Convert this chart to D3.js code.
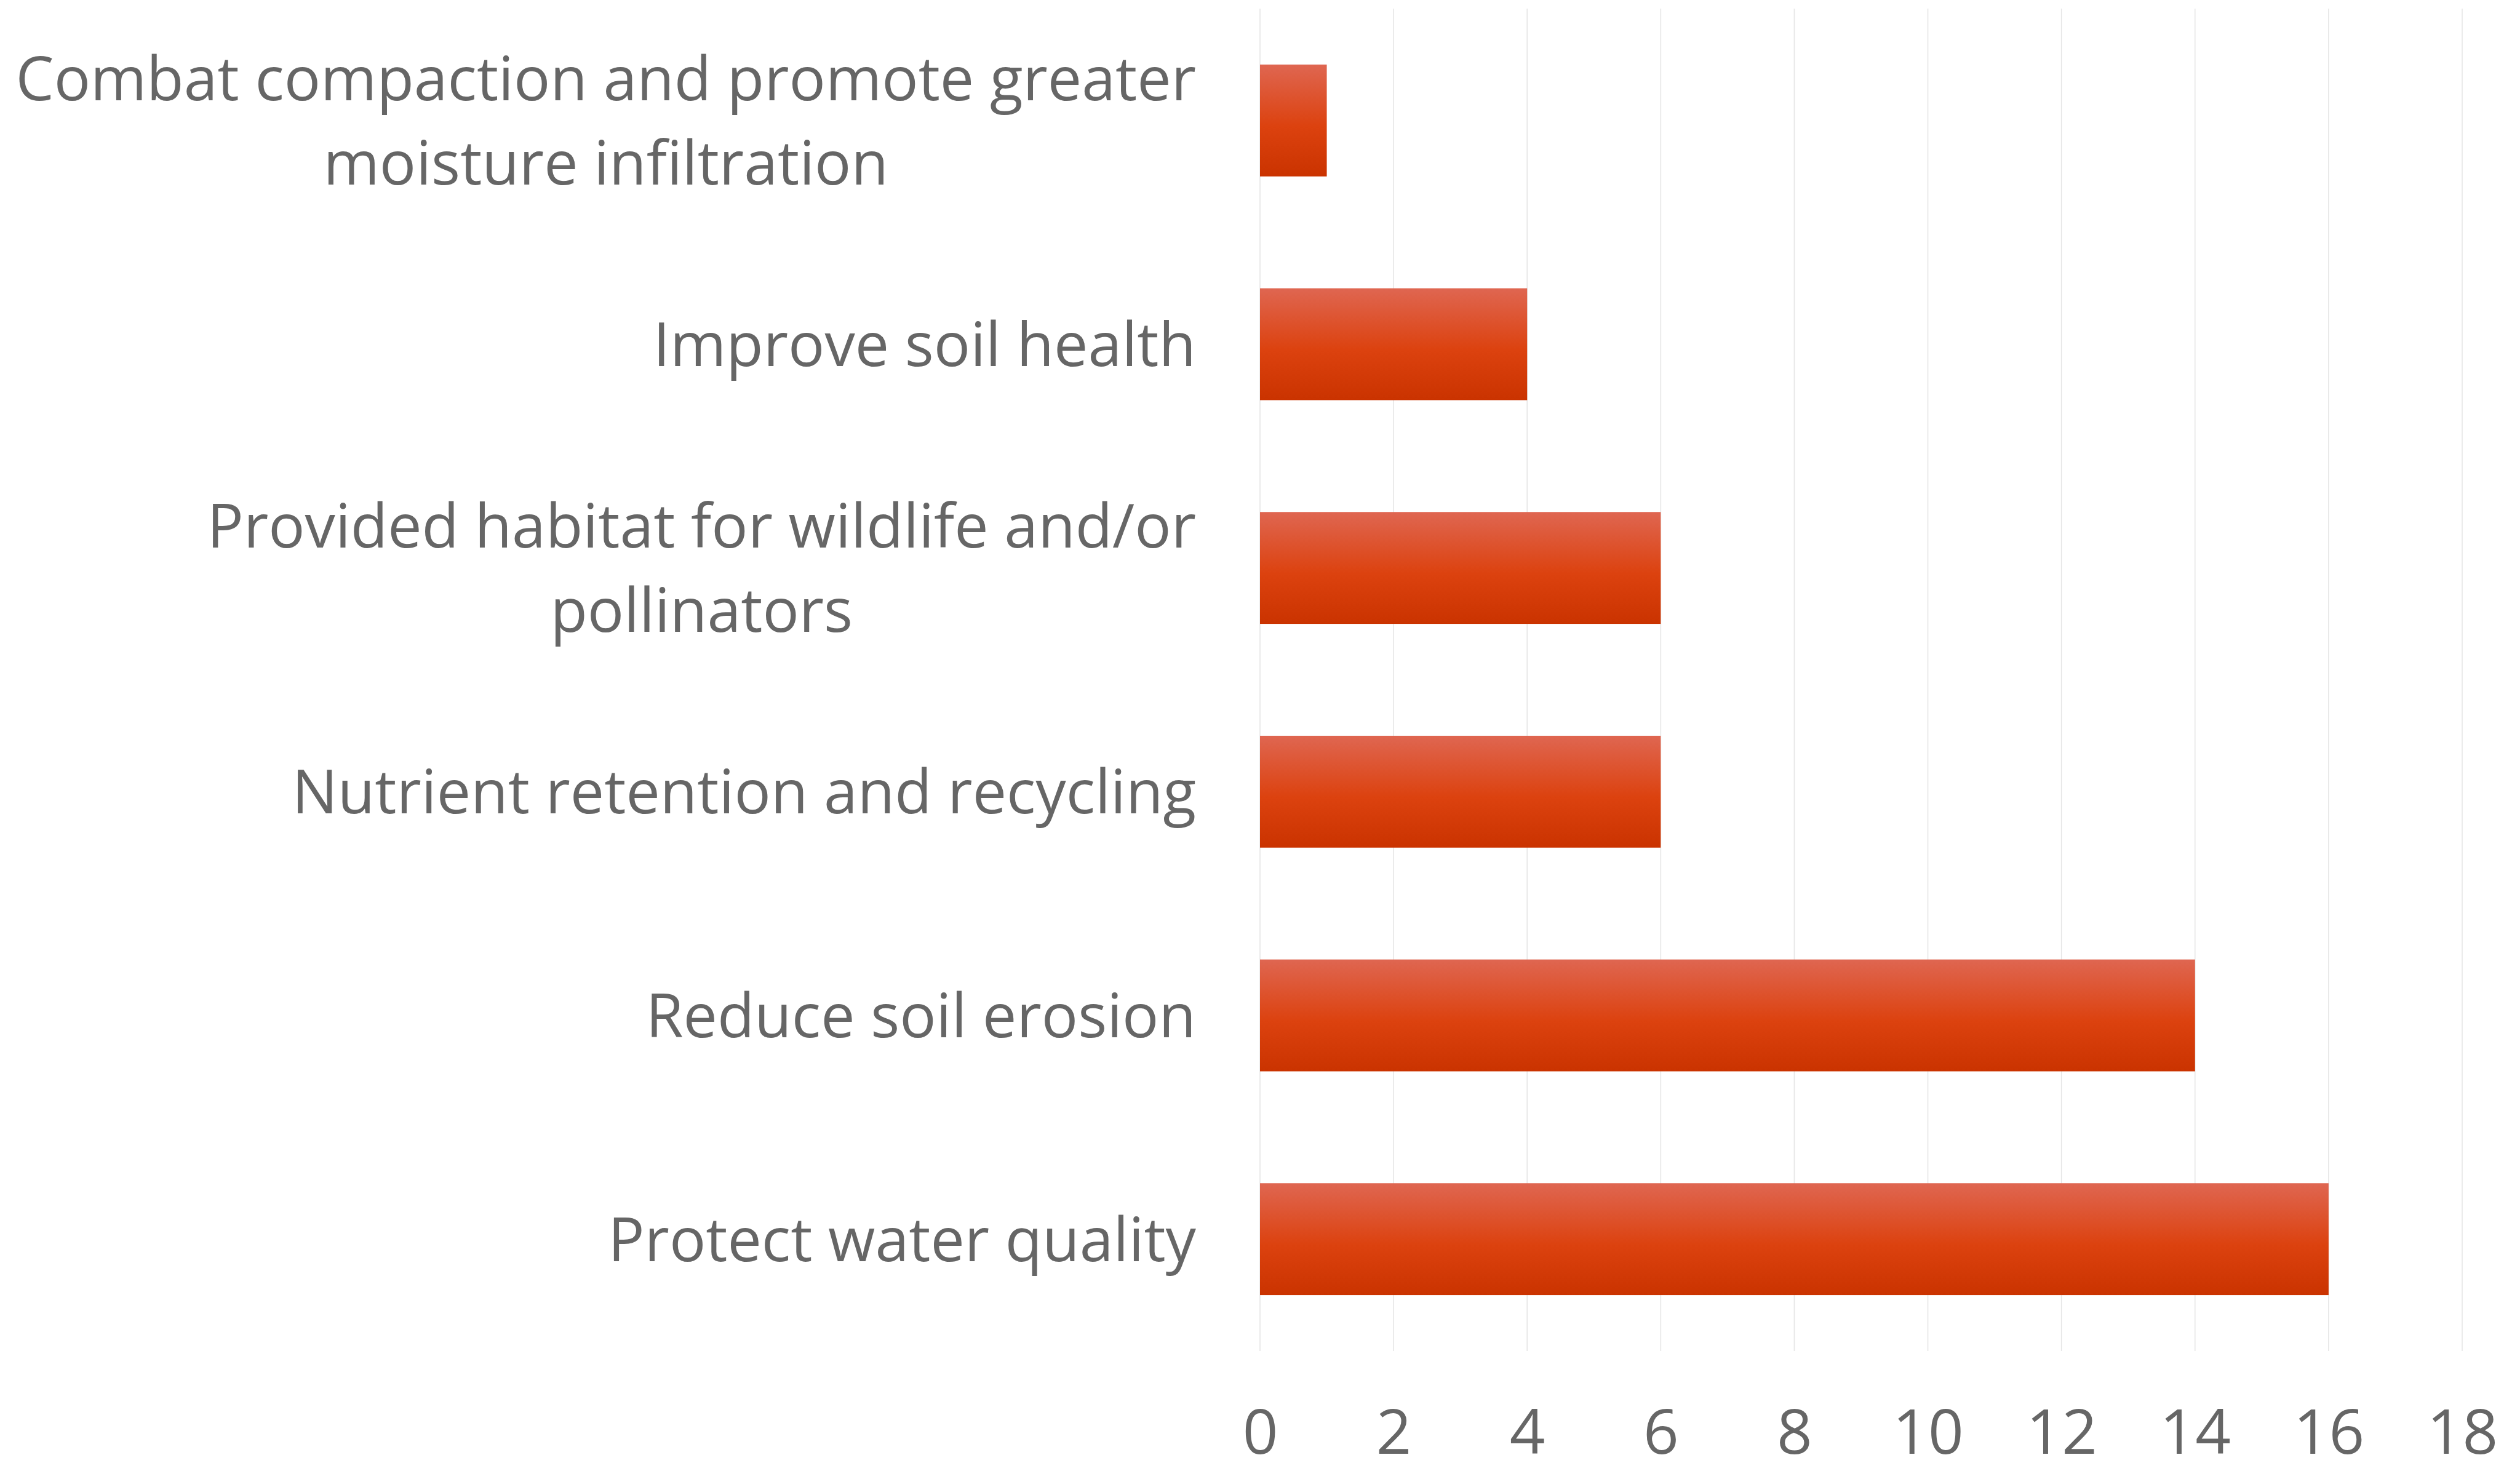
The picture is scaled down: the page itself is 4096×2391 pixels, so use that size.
<!DOCTYPE html>
<html><head><meta charset="utf-8">
<script src="https://cdn.jsdelivr.net/npm/d3@7"></script>
<style>html,body{margin:0;padding:0;background:#fff;overflow:hidden}</style>
</head><body>
<script>
const categories = [
  ["Combat compaction and promote greater", "moisture infiltration"],
  ["Improve soil health"],
  ["Provided habitat for wildlife and/or", "pollinators"],
  ["Nutrient retention and recycling"],
  ["Reduce soil erosion"],
  ["Protect water quality"]
];
const values = [1, 4, 6, 6, 14, 16];
const tickValues = [0, 2, 4, 6, 8, 10, 12, 14, 16, 18];

const W = 4096, H = 2391;
const fontSize = 98.7, tickFont = 101, lineH = 136.6;
const svg = d3.select("body").append("svg").attr("width", W).attr("height", H)
  .style("font-family", "'Open Sans', sans-serif");

const defs = svg.append("defs");
const g = defs.append("linearGradient").attr("id", "barGrad")
  .attr("x1", 0).attr("y1", 0).attr("x2", 0).attr("y2", 1);
g.append("stop").attr("offset", "0%").attr("stop-color", "#DF6651");
g.append("stop").attr("offset", "55%").attr("stop-color", "#DC420F");
g.append("stop").attr("offset", "100%").attr("stop-color", "#CA3300");

const x = d3.scaleLinear().domain([0, 18]).range([2048, 4002]);
const ids = categories.map((d, i) => i);
const y = d3.scaleBand().domain(ids).range([14, 2196]).paddingInner(0.5).paddingOuter(0.25);

// gridlines
svg.append("g").selectAll("line").data(tickValues).join("line")
  .attr("x1", d => x(d)).attr("x2", d => x(d))
  .attr("y1", 14).attr("y2", 2196)
  .attr("stroke", "#e6e6e6").attr("stroke-width", 1.6);

// bars
svg.append("g").selectAll("rect").data(values).join("rect")
  .attr("x", x(0)).attr("y", (d, i) => y(i))
  .attr("width", d => x(d) - x(0)).attr("height", y.bandwidth())
  .attr("fill", "url(#barGrad)");

// x axis tick labels
const xAxis = d3.axisBottom(x).tickValues(tickValues).tickSize(0).tickPadding(0);
const ax = svg.append("g").attr("transform", "translate(0,2363)").call(xAxis);
ax.select(".domain").remove();
ax.selectAll("text").attr("dy", 0).attr("y", 0)
  .attr("font-size", tickFont).attr("fill", "#666")
  .attr("font-family", "'Open Sans', sans-serif");

// category labels
const lab = svg.append("g").selectAll("text").data(categories).join("text")
  .attr("text-anchor", "middle").attr("font-size", fontSize).attr("fill", "#666");
lab.each(function (lines, i) {
  const t = d3.select(this);
  const cy = y(i) + y.bandwidth() / 2;
  const base = cy - lineH * (lines.length - 1) / 2 + fontSize * 0.36;
  lines.forEach((l, k) => {
    t.append("tspan").attr("y", base + k * lineH).text(l);
  });
});
lab.each(function () {
  const t = d3.select(this);
  const spans = t.selectAll("tspan").nodes();
  const widths = spans.map(s => s.getComputedTextLength());
  const maxW = d3.max(widths);
  const cx = 1944 - maxW / 2;
  spans.forEach(s => d3.select(s).attr("x", cx));
});
</script>
</body></html>
